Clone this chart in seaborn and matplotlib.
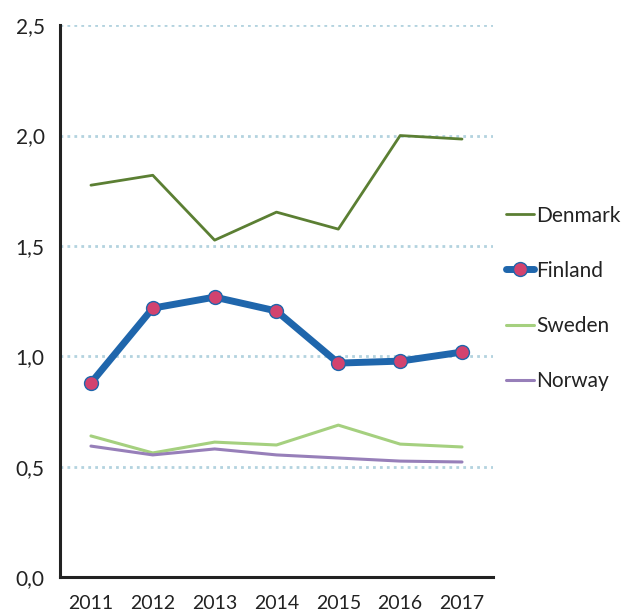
import matplotlib
matplotlib.use("Agg")
import matplotlib.pyplot as plt
import seaborn as sns
import pandas as pd

years = ["2011", "2012", "2013", "2014", "2015", "2016", "2017"]
denmark = [1.775, 1.82, 1.526, 1.653, 1.576, 2.0, 1.984]
finland = [0.879, 1.218, 1.268, 1.205, 0.969, 0.978, 1.019]
sweden = [0.639, 0.562, 0.611, 0.598, 0.688, 0.602, 0.589]
norway = [0.593, 0.553, 0.580, 0.553, 0.539, 0.525, 0.521]

sns.set_style("white")
plt.rcParams['font.family'] = ['Lato', 'DejaVu Sans']

pos = list(range(len(years)))
fig = plt.figure(figsize=(6.22, 6.14), dpi=100)
ax = fig.add_axes([0.0965, 0.0603, 0.696, 0.8987])

# --- gridlines ---
for v in [0.5, 1.0, 1.5, 2.0, 2.5]:
    ax.axhline(v, color="#b3d3df", lw=2, ls=(0, (1, 1.5)), zorder=0)

series = [
    ("Denmark", denmark, "#5b7f33", 2.0),
    ("Finland", finland, "#1f66ac", 5.0),
    ("Sweden", sweden, "#a5d07f", 2.2),
    ("Norway", norway, "#977fb9", 2.2),
]
for name, vals, col, lw in series:
    df = pd.DataFrame({"x": pos, "y": vals})
    if name == "Finland":
        sns.lineplot(data=df, x="x", y="y", ax=ax, color=col, lw=lw, label=name,
                     marker="o", markersize=10, markerfacecolor="#d2436f",
                     markeredgecolor="#1f66ac", markeredgewidth=1, zorder=3)
    else:
        sns.lineplot(data=df, x="x", y="y", ax=ax, color=col, lw=lw, label=name, zorder=2)

ax.set_xlim(-0.5, len(years) - 0.5)
ax.set_ylim(0, 2.5)
ax.set_yticks([0, 0.5, 1.0, 1.5, 2.0, 2.5])
ax.set_yticklabels(["0,0", "0,5", "1,0", "1,5", "2,0", "2,5"])
ax.set_xticks([p - 0.5 for p in pos] + [len(years) - 0.5])
ax.set_xticklabels([])
ax.set_xticks(pos, minor=True)
ax.set_xticklabels(years, minor=True)
ax.tick_params(axis="x", which="major", direction="out", length=6, width=2, color="#222222")
ax.tick_params(axis="x", which="minor", length=0, pad=13, labelsize=14, labelcolor="#222222")
ax.tick_params(axis="y", direction="out", length=6, width=2, color="#222222",
               labelsize=15, labelcolor="#222222", pad=5)
ax.set_xlabel("")
ax.set_ylabel("")

for s in ["top", "right"]:
    ax.spines[s].set_visible(False)
for s in ["left", "bottom"]:
    ax.spines[s].set_color("#222222")
    ax.spines[s].set_linewidth(2.2)

leg = ax.legend(loc="center left", bbox_to_anchor=(1.01, 0.505), frameon=False,
                fontsize=15, handlelength=1.35, handletextpad=0.1, labelspacing=1.69,
                borderaxespad=0)
for t in leg.get_texts():
    t.set_color("#222222")

fig.savefig("out.png", dpi=100)
